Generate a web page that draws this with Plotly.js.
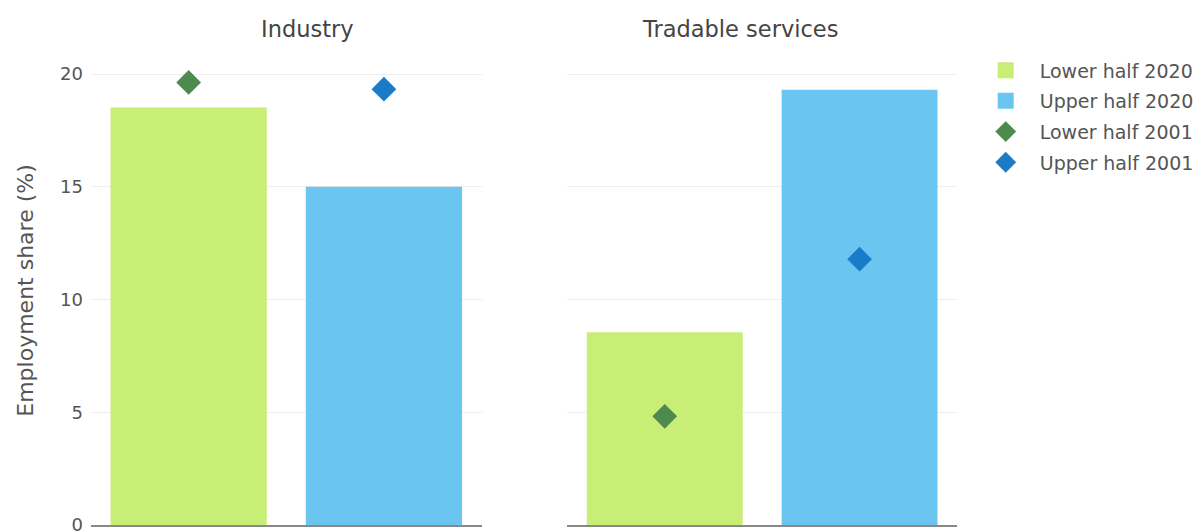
<!DOCTYPE html>
<html>
<head>
<meta charset="utf-8">
<script src="https://cdn.plot.ly/plotly-3.0.1.min.js"></script>
<style>html,body{margin:0;padding:0;background:#fff;}#chart{width:1200px;height:531px;}</style>
</head>
<body>
<div id="chart"></div>
<script>
const categories = ["Lower half", "Upper half"];
const panels = ["Industry", "Tradable services"];
// values per panel: [Industry, Tradable services]
const lowerHalf2020 = [18.52, 8.55];
const upperHalf2020 = [15.0, 19.3];
const lowerHalf2001 = [19.63, 4.82];
const upperHalf2001 = [19.33, 11.79];

const colors = {
  lower2020: "#c8ee76",
  upper2020: "#6bc5f1",
  lower2001: "#4e8a4e",
  upper2001: "#1a7bc9"
};

const axes = [["x", "y"], ["x2", "y2"]];
const traces = [];
const legendTraces = [];
function addSeries(name, vals, cat, type, color, group) {
  vals.forEach((v, i) => {
    const t = {
      name: name,
      legendgroup: group,
      showlegend: false,
      x: [cat],
      y: [v],
      xaxis: axes[i][0],
      yaxis: axes[i][1],
      hovertemplate: panels[i] + "<br>" + name + ": %{y:.1f}%<extra></extra>"
    };
    if (type === "bar") {
      t.type = "bar";
      t.marker = {color: color};
      t.width = 0.8;
    } else {
      t.type = "scatter";
      t.mode = "markers";
      t.marker = {symbol: "diamond", size: 19, color: color};
    }
    traces.push(t);
  });
  // legend entry (square for bars, diamond for markers)
  legendTraces.push({
    type: "scatter",
    mode: "markers",
    name: name,
    legendgroup: group,
    showlegend: true,
    x: [null],
    y: [null],
    xaxis: "x",
    yaxis: "y",
    hoverinfo: "skip",
    marker: {symbol: type === "bar" ? "square" : "diamond", size: 19, color: color}
  });
}
addSeries("Lower half 2020", lowerHalf2020, categories[0], "bar", colors.lower2020, "g1");
addSeries("Upper half 2020", upperHalf2020, categories[1], "bar", colors.upper2020, "g2");
addSeries("Lower half 2001", lowerHalf2001, categories[0], "scatter", colors.lower2001, "g3");
addSeries("Upper half 2001", upperHalf2001, categories[1], "scatter", colors.upper2001, "g4");

const font = "DejaVu Sans, Verdana, sans-serif";
const xBase = {
  type: "category",
  categoryorder: "array",
  categoryarray: categories,
  range: [-0.5, 1.5],
  showticklabels: false,
  ticks: "",
  showgrid: false,
  showline: true,
  linecolor: "#888",
  linewidth: 2,
  zeroline: false,
  fixedrange: true
};
const yBase = {
  range: [0, 20.8],
  tickvals: [0, 5, 10, 15, 20],
  gridcolor: "#eeeeee",
  gridwidth: 1,
  zeroline: false,
  showline: false,
  ticklabeloverflow: "allow",
  ticklabelstandoff: 7,
  tickfont: {size: 18, color: "#555", family: font},
  fixedrange: true
};

const layout = {
  width: 1200,
  height: 531,
  margin: {l: 91, r: 243, t: 56, b: 6, autoexpand: false},
  paper_bgcolor: "#fff",
  plot_bgcolor: "#fff",
  font: {family: font, color: "#555"},
  barmode: "overlay",
  showlegend: true,
  xaxis: Object.assign({}, xBase, {domain: [0, 0.451], anchor: "y"}),
  xaxis2: Object.assign({}, xBase, {domain: [0.550, 1], anchor: "y2"}),
  yaxis: Object.assign({}, yBase, {
    anchor: "x",
    title: {text: "Employment share (%)", font: {size: 22, color: "#555", family: font}, standoff: 20}
  }),
  yaxis2: Object.assign({}, yBase, {anchor: "x2", showticklabels: false}),
  legend: {
    x: 1.017, xanchor: "left", y: 1.01, yanchor: "top",
    font: {size: 19, color: "#555", family: font},
    traceorder: "grouped",
    tracegroupgap: 3,
    itemwidth: 58,
    itemclick: false, itemdoubleclick: false
  },
  annotations: [
    {text: panels[0], xref: "paper", yref: "paper", x: (307.5 - 91) / 866, y: 1, yshift: 27, showarrow: false,
     xanchor: "center", yanchor: "middle", font: {size: 22.5, color: "#444", family: font}},
    {text: panels[1], xref: "paper", yref: "paper", x: (740 - 91) / 866, y: 1, yshift: 27, showarrow: false,
     xanchor: "center", yanchor: "middle", font: {size: 22.5, color: "#444", family: font}}
  ]
};

Plotly.newPlot("chart", traces.concat(legendTraces), layout, {displayModeBar: false, responsive: false});
</script>
</body>
</html>
